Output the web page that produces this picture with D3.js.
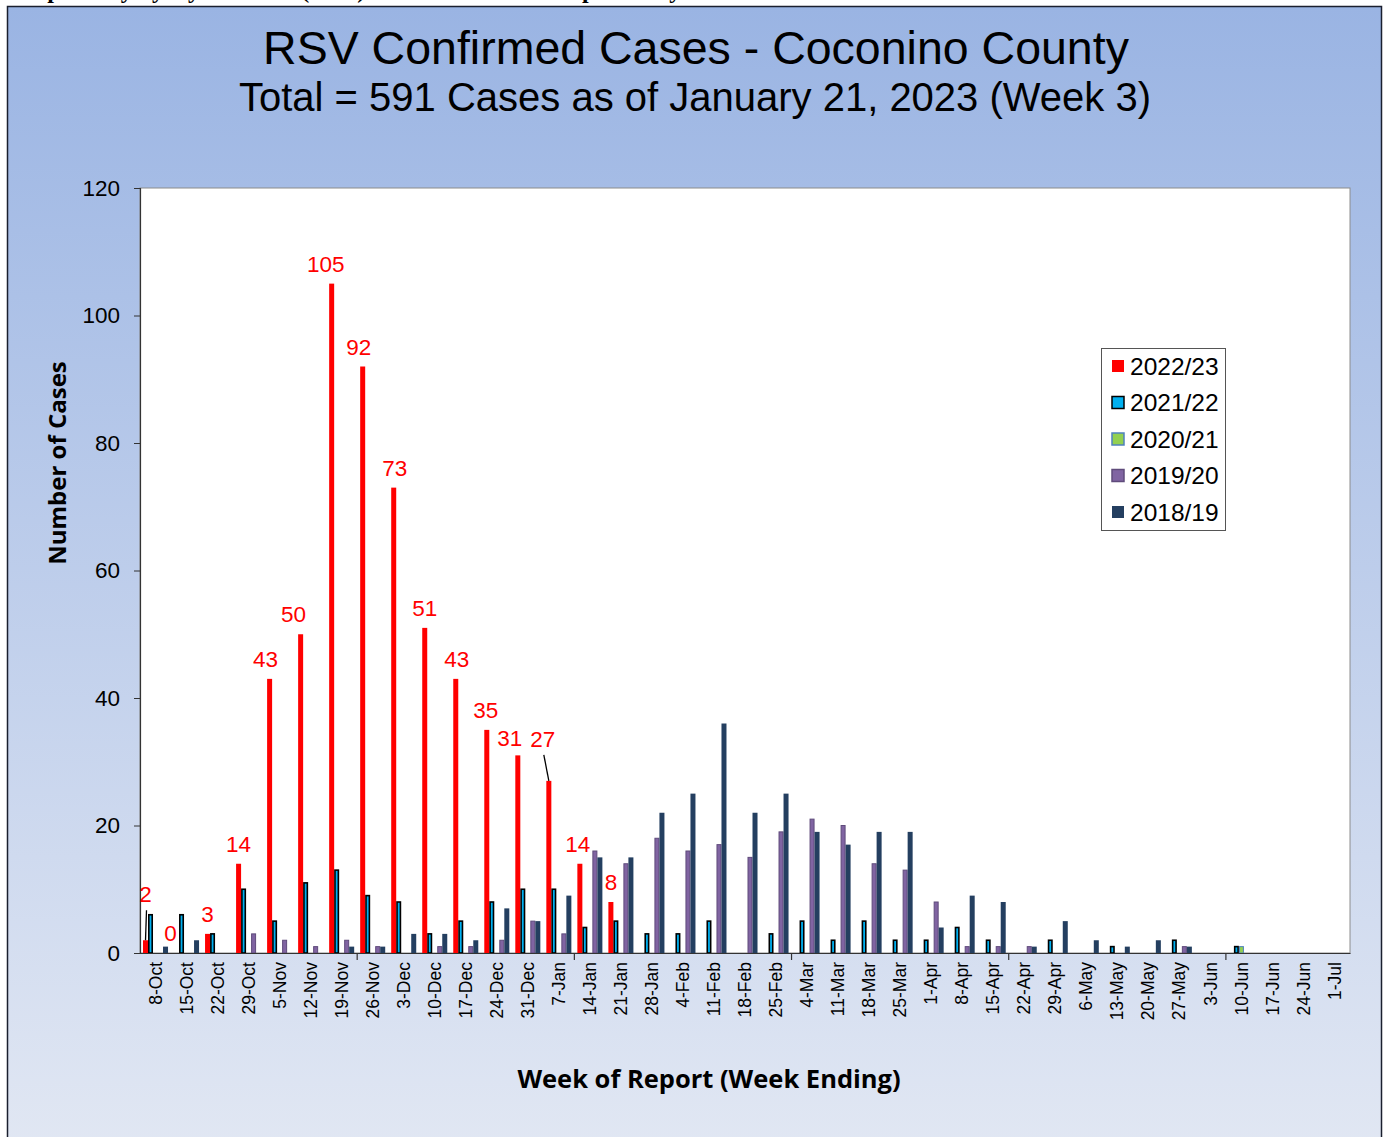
<!DOCTYPE html>
<html>
<head>
<meta charset="utf-8">
<script src="https://cdn.jsdelivr.net/npm/d3@7/dist/d3.min.js"></script>
<style>
  html, body { margin: 0; padding: 0; background: #ffffff; }
  svg { display: block; }
</style>
</head>
<body>
<svg id="chart" width="1386" height="1137"></svg>
<script>
// ---------- DATA ----------
const categories = ["8-Oct","15-Oct","22-Oct","29-Oct","5-Nov","12-Nov","19-Nov","26-Nov","3-Dec","10-Dec","17-Dec","24-Dec","31-Dec","7-Jan","14-Jan","21-Jan","28-Jan","4-Feb","11-Feb","18-Feb","25-Feb","4-Mar","11-Mar","18-Mar","25-Mar","1-Apr","8-Apr","15-Apr","22-Apr","29-Apr","6-May","13-May","20-May","27-May","3-Jun","10-Jun","17-Jun","24-Jun","1-Jul"];
const seriesNames = ["2022/23","2021/22","2020/21","2019/20","2018/19"];
const s2022 = [2,0,3,14,43,50,105,92,73,51,43,35,31,27,14,8];
const s2021 = [6,6,3,10,5,11,13,9,8,3,5,8,10,10,4,5,3,3,5,0,3,5,2,5,2,2,4,2,0,2,0,1,0,2,0,1,0,0,0];
const s2020 = [0,0,0,0,0,0,0,0,0,0,0,0,0,0,0,0,0,0,0,0,0,0,0,0,0,0,0,0,0,0,0,0,0,0,0,1,0,0,0];
const s2019 = [0,0,0,3,2,1,2,1,0,1,1,2,5,3,16,14,18,16,17,15,19,21,20,14,13,8,1,1,1,0,0,0,0,1,0,0,0,0,0];
const s2018 = [1,2,0,0,0,0,1,1,3,3,2,7,5,9,15,15,22,25,36,22,25,19,17,19,19,4,9,8,1,5,2,1,2,1,0,0,0,0,0];
const yTicks = [0,20,40,60,80,100,120];
const titleText = "RSV Confirmed Cases - Coconino County";
const subtitleText = "Total = 591 Cases as of January 21, 2023 (Week 3)";

const seriesData = [s2022, s2021, s2020, s2019, s2018];
const seriesFill   = ["#ff0000", "#00b0f0", "#92d050", "#8064a2", "#243f60"];
const seriesStroke = ["none",    "#000000", "#4f81bd", "#5f4b7b", "none"];
const seriesSW     = [0, 1.6, 1, 1, 0];

// label nudges for the 2022/23 data labels (dx, dy in px)
const labelDx = [0,-6,0,0,-4,-7,-6,-4,1,0,1,-1,-8,-6,-2,0];
const labelDy = [-26,0,0,0,0,0,0,0,0,0,0,0,3,-22,0,0];

// ---------- LAYOUT ----------
const svg = d3.select("#chart");
const plot = {left: 140, right: 1350, top: 188, bottom: 953};
const SANS = "Liberation Sans, Arial, sans-serif";

const defs = svg.append("defs");
const grad = defs.append("linearGradient").attr("id","bg").attr("x1",0).attr("y1",0).attr("x2",0).attr("y2",1);
grad.append("stop").attr("offset","0%").attr("stop-color","#9ab4e3");
grad.append("stop").attr("offset","100%").attr("stop-color","#e1e7f3");

// cut-off document heading above chart (only its lower part shows)
svg.append("text")
  .attr("x", 10).attr("y", -2)
  .attr("font-family", "Liberation Serif, Times New Roman, serif")
  .attr("font-weight", "bold").attr("font-size", 24)
  .attr("fill", "#000")
  .text("Respiratory Syncytial Virus (RSV) Confirmed Cases Reported by Week");

// chart background box
svg.append("rect")
  .attr("x", 7.5).attr("y", 6.5).attr("width", 1374).attr("height", 1140)
  .attr("fill", "url(#bg)").attr("stroke", "#1a1f2e").attr("stroke-width", 1.5);

// titles
svg.append("text").attr("x", 696).attr("y", 64)
  .attr("text-anchor","middle").attr("font-family", SANS)
  .attr("font-size", 46.5).attr("fill","#000").text(titleText);
svg.append("text").attr("x", 695).attr("y", 111)
  .attr("text-anchor","middle").attr("font-family", SANS)
  .attr("font-size", 40).attr("fill","#000").text(subtitleText);

// plot area
svg.append("rect")
  .attr("x", plot.left).attr("y", plot.top)
  .attr("width", plot.right - plot.left).attr("height", plot.bottom - plot.top)
  .attr("fill", "#ffffff").attr("stroke", "#8c8c8c").attr("stroke-width", 1);

// scales
const x0 = d3.scaleBand().domain(categories).range([plot.left, plot.right]).padding(0);
const x1 = d3.scaleBand().domain(seriesNames).range([3, x0.bandwidth() - 3]).padding(0);
const y = d3.scaleLinear().domain([0, 120]).range([plot.bottom, plot.top]);

// bars
seriesNames.forEach((name, si) => {
  const vals = seriesData[si];
  const g = svg.append("g").attr("class", "series-" + si);
  g.selectAll("rect")
    .data(vals.map((v, i) => ({cat: categories[i], v: v})).filter(d => d.v > 0))
    .enter().append("rect")
    .attr("x", d => x0(d.cat) + x1(name) + (seriesSW[si] ? seriesSW[si]/2 : 0))
    .attr("y", d => y(d.v))
    .attr("width", x1.bandwidth() - (seriesSW[si] ? seriesSW[si] : 0))
    .attr("height", d => y(0) - y(d.v))
    .attr("fill", seriesFill[si])
    .attr("stroke", seriesStroke[si])
    .attr("stroke-width", seriesSW[si]);
});

// Y axis
const yAxis = d3.axisLeft(y).tickValues(yTicks).tickSize(6).tickPadding(14);
const yg = svg.append("g").attr("transform", `translate(${plot.left},0)`).call(yAxis);
yg.select(".domain").attr("stroke", "#333").attr("stroke-width", 1.2);
yg.selectAll(".tick line").attr("stroke", "#333");
yg.selectAll(".tick text").attr("font-family", SANS)
  .attr("font-size", 22.5).attr("fill","#000");

// X axis
const xAxis = d3.axisBottom(x0).tickSize(0).tickSizeOuter(0);
const xg = svg.append("g").attr("transform", `translate(0,${plot.bottom})`).call(xAxis);
xg.select(".domain").attr("stroke", "#333").attr("stroke-width", 1.2);
xg.selectAll(".tick text")
  .attr("font-family", SANS)
  .attr("font-size", 17.5).attr("fill","#000")
  .attr("text-anchor","end")
  .attr("transform","rotate(-90)")
  .attr("x", -9).attr("y", 0).attr("dy", "0.35em");
// tick marks every 7 categories (at category boundaries)
const boundaryCats = categories.filter((c, i) => i > 0 && i % 7 === 0);
svg.append("g").selectAll("line").data(boundaryCats).enter().append("line")
  .attr("x1", d => x0(d)).attr("x2", d => x0(d))
  .attr("y1", plot.bottom).attr("y2", plot.bottom + 7)
  .attr("stroke", "#333").attr("stroke-width", 1.2);

// data labels for 2022/23
const lblG = svg.append("g");
s2022.forEach((v, i) => {
  const cx = x0(categories[i]) + x1(seriesNames[0]) + x1.bandwidth() / 2;
  lblG.append("text")
    .attr("x", cx + labelDx[i]).attr("y", y(v) - 12 + labelDy[i])
    .attr("text-anchor", "middle")
    .attr("font-family", SANS)
    .attr("font-size", 22.5).attr("fill", "#ff0000")
    .text(v);
  if (labelDy[i] < -10) {
    lblG.append("line")
      .attr("x1", cx + labelDx[i] + 1).attr("y1", y(v) - 12 + labelDy[i] + 8)
      .attr("x2", cx).attr("y2", y(v))
      .attr("stroke", "#000").attr("stroke-width", 1.3);
  }
});

// axis titles
svg.append("text")
  .attr("transform", `translate(66,463) rotate(-90)`)
  .attr("text-anchor","middle")
  .attr("font-family","Open Sans, Liberation Sans, sans-serif")
  .attr("font-weight","bold").attr("font-size", 24).attr("fill","#000")
  .text("Number of Cases");
svg.append("text")
  .attr("x", 709).attr("y", 1088)
  .attr("text-anchor","middle")
  .attr("font-family","Open Sans, Liberation Sans, sans-serif")
  .attr("font-weight","bold").attr("font-size", 25.5).attr("fill","#000")
  .text("Week of Report (Week Ending)");

// legend
const lg = svg.append("g").attr("transform", "translate(1101,348)");
lg.append("rect").attr("x", 0.5).attr("y", 0.5).attr("width", 124).attr("height", 182)
  .attr("fill", "#fff").attr("stroke", "#555").attr("stroke-width", 1);
seriesNames.forEach((name, si) => {
  const yy = 18 + si * 36.5;
  lg.append("rect").attr("x", 11).attr("y", yy - 6).attr("width", 12).attr("height", 12)
    .attr("fill", seriesFill[si])
    .attr("stroke", seriesStroke[si] === "none" ? "none" : seriesStroke[si])
    .attr("stroke-width", seriesSW[si] ? 1.5 : 0);
  lg.append("text").attr("x", 29).attr("y", yy).attr("dy", "0.36em")
    .attr("font-family", SANS)
    .attr("font-size", 24.5).attr("fill","#000").text(name);
});
</script>
</body>
</html>
